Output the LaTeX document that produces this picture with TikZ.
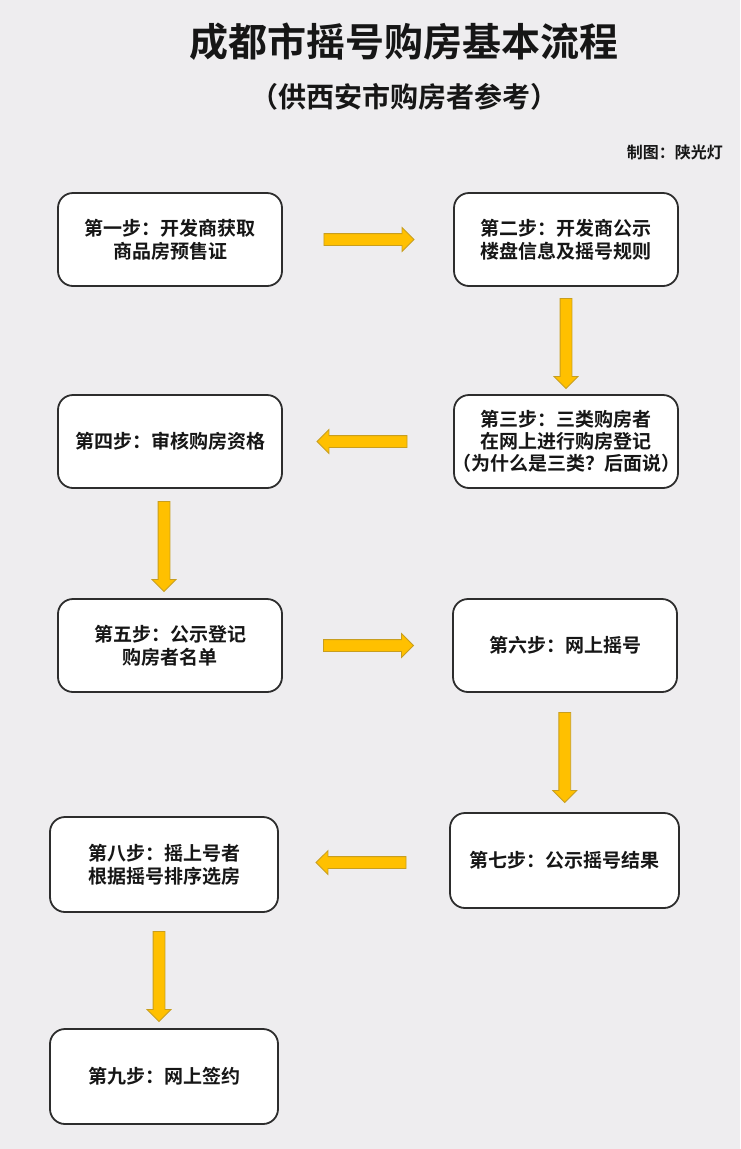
\documentclass[tikz,border=0pt]{standalone}
\usepackage{fontspec}
\setmainfont{Noto Sans CJK SC}[BoldFont={Noto Sans CJK SC Bold}]
\usetikzlibrary{shapes.arrows,calc}
\definecolor{bg}{RGB}{238,237,239}
\definecolor{arrowfill}{RGB}{255,192,0}
\definecolor{arrowdraw}{RGB}{200,158,30}
\definecolor{boxdraw}{RGB}{45,45,45}
\definecolor{txt}{RGB}{22,22,22}
\begin{document}
\begin{tikzpicture}[x=1pt,y=-1pt,
  stepbox/.style={draw=boxdraw, line width=1.8pt, fill=white, rounded corners=15pt,
    minimum width=224pt, minimum height=93pt, align=center, inner sep=0pt,
    font=\fontsize{19}{23.5}\selectfont\bfseries, text=txt},
  blockarrow/.style={single arrow, fill=arrowfill, draw=arrowdraw, line width=0.8pt,
    minimum height=90pt, minimum width=0pt, inner xsep=0pt, inner ysep=5.5pt,
    single arrow head extend=6pt, single arrow head indent=0pt, anchor=center},
  ttl/.style={text=txt, inner sep=0pt}]
\fill[bg] (0,0) rectangle (740,1149);
\useasboundingbox (0,0) rectangle (740,1149);

\node[ttl, font=\fontsize{39}{39}\selectfont\bfseries] (title) at (404,42) {成都市摇号购房基本流程};
\node[ttl, font=\fontsize{28}{28}\selectfont\bfseries] (subtitle) at (404,97) {\kern-0.45em（供西安市购房者参考）\kern-0.45em};
\node[ttl, font=\fontsize{16}{16}\selectfont\bfseries, anchor=east] (credit) at (723,152) {制图：陕光灯};

\node[stepbox] (b1) at (170,239.5) {\raisebox{-3pt}{\shortstack{第一步：开发商获取\\[2pt]商品房预售证}}};
\node[stepbox] (b2) at (566,239.5) {\raisebox{-2pt}{\shortstack{第二步：开发商公示\\[2pt]楼盘信息及摇号规则}}};
\node[stepbox, font=\fontsize{19}{22}\selectfont\bfseries] (b3) at (566,441.5) {第三步：三类购房者\\在网上进行购房登记\\\kern-0.45em（为什么是三类？后面说）\kern-0.45em};
\node[stepbox] (b4) at (170,441.5) {第四步：审核购房资格};
\node[stepbox] (b5) at (170,645.5) {\raisebox{-2pt}{\shortstack{第五步：公示登记\\[2pt]购房者名单}}};
\node[stepbox] (b6) at (565,645.5) {第六步：网上摇号};
\node[stepbox, minimum width=229pt, minimum height=95pt] (b7) at (564.5,860.5) {第七步：公示摇号结果};
\node[stepbox, minimum width=228pt, minimum height=95pt] (b8) at (164,864.5) {\raisebox{-1pt}{\shortstack{第八步：摇上号者\\[2pt]根据摇号排序选房}}};
\node[stepbox, minimum width=228pt, minimum height=95pt] (b9) at (164,1076.5) {第九步：网上签约};

\node[blockarrow] (a1) at ($(b1.east)!0.5!(b2.west)+(-2,0)$) {};
\node[blockarrow, rotate=-90] (a2) at ($(b2.south)!0.5!(b3.north)$) {};
\node[blockarrow, rotate=180] (a3) at ($(b3.west)!0.5!(b4.east)+(-3,0)$) {};
\node[blockarrow, rotate=-90] (a4) at ($(b4.south)!0.5!(b5.north)+(-6,0)$) {};
\node[blockarrow] (a5) at ($(b5.east)!0.5!(b6.west)+(-2,0)$) {};
\node[blockarrow, rotate=-90] (a6) at ($(b6.south)!0.5!(b7.north)+(0,2)$) {};
\node[blockarrow, rotate=180] (a7) at ($(b7.west)!0.5!(b8.east)$) {};
\node[blockarrow, rotate=-90] (a8) at ($(b8.south)!0.5!(b9.north)+(-5,3)$) {};
\end{tikzpicture}
\end{document}
